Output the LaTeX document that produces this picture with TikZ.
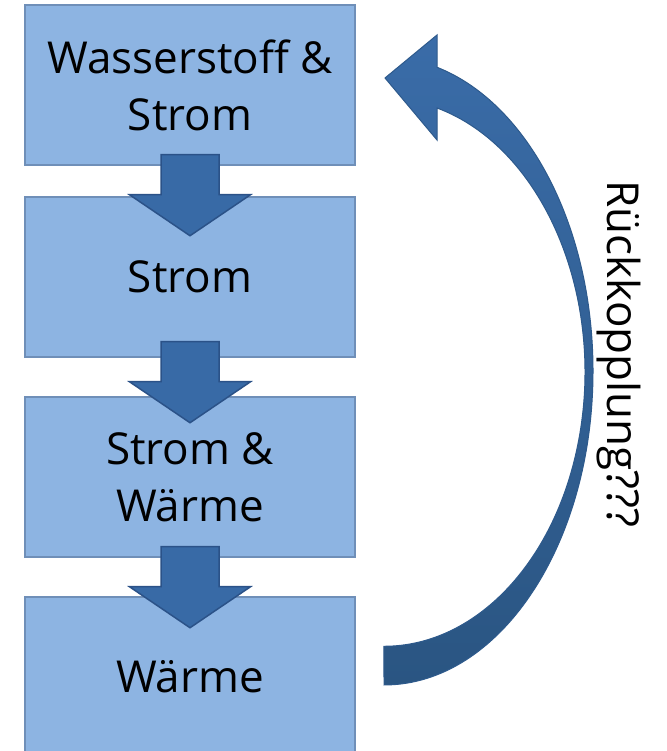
\documentclass[tikz,border=0pt]{standalone}
\usepackage{fontspec}
\setmainfont{Open Sans}
\usetikzlibrary{calc}
\definecolor{boxfill}{HTML}{8DB4E2}
\definecolor{boxline}{HTML}{6F8FB8}
\definecolor{arrfill}{HTML}{386AA6}
\definecolor{arrline}{HTML}{2B5288}
\definecolor{curvetop}{HTML}{3A6CA8}
\definecolor{curvebot}{HTML}{2A5582}
\definecolor{curveline}{HTML}{2E5A8C}
\begin{document}
\begin{tikzpicture}[x=1pt,y=1pt,
  stage/.style={rectangle, draw=boxline, line width=1.5pt, fill=boxfill,
    minimum width=330pt, minimum height=160pt, inner sep=0pt, align=center,
    font=\fontsize{44}{57}\selectfont},
  blockarrow/.style={draw=arrline, line width=1.5pt, fill=arrfill, line join=miter},
  flowarrow/.pic={\draw[blockarrow] (-29,0) -- (29,0) -- (29,-40) -- (60.5,-40)
      -- (0,-81) -- (-60.5,-40) -- (-29,-40) -- cycle;},
  fbtext/.style={font=\fontsize{44}{57}\selectfont, rotate=-90, anchor=base, inner sep=0pt}]
\useasboundingbox (0,0) rectangle (666,751);
\clip (0,0) rectangle (666,751);
\fill[white] (0,0) rectangle (666,751);
% boxes
\node[stage] (b1) at (190,666) {Wasserstoff \&\\Strom};
\node[stage] (b2) at (190,474) {Strom};
\node[stage] (b3) at (190,274) {Strom \&\\Wärme};
\node[stage] (b4) at (190,74) {Wärme};
% block arrows
\pic at ($(b1.south)+(0,11)$) {flowarrow};
\pic at ($(b2.south)+(0,16)$) {flowarrow};
\pic at ($(b3.south)+(0,11)$) {flowarrow};
% feedback arrow
\coordinate (fbstart) at (384,66);
\coordinate (fbtip) at (385,673);
\path[draw=curveline, line width=1pt, line join=miter, top color=curvetop, bottom color=curvebot]
  (fbstart) arc[start angle=-90, end angle=75.3, x radius=209pt, y radius=314pt]
  -- (437,716) -- (fbtip) -- (437,611) -- (437,643)
  arc[start angle=74.7, end angle=-90, x radius=201pt, y radius=274pt]
  -- cycle;
\node[fbtext] (fb) at (607,397) {Rückkopplung???};
\end{tikzpicture}
\end{document}
